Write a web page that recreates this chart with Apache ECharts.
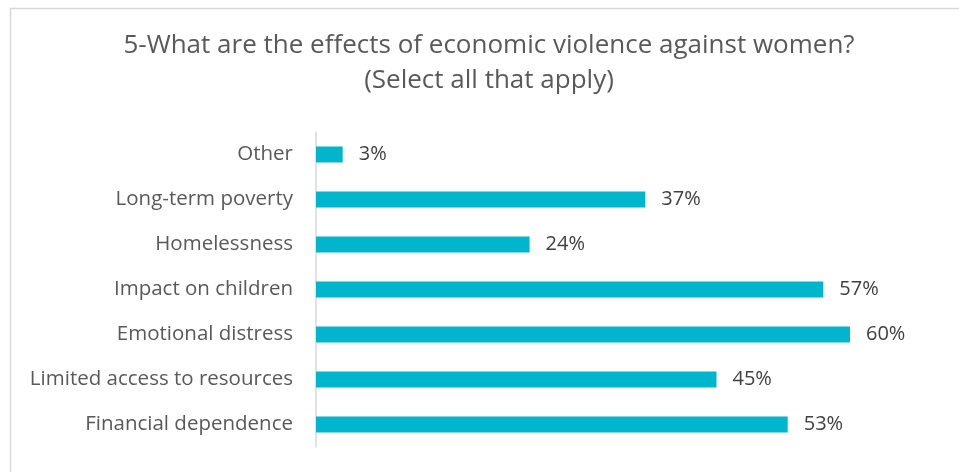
<!DOCTYPE html>
<html>
<head>
<meta charset="utf-8">
<script src="https://cdn.jsdelivr.net/npm/echarts@6/dist/echarts.min.js"></script>
<style>
  html, body { margin: 0; padding: 0; background: #fff; }
  #chart { width: 959px; height: 472px; }
</style>
</head>
<body>
<div id="chart"></div>
<script>
// Survey responses, listed bottom-to-top as drawn on the category axis
const categories = [
  'Financial dependence',
  'Limited access to resources',
  'Emotional distress',
  'Impact on children',
  'Homelessness',
  'Long-term poverty',
  'Other'
];
const percentages = [53, 45, 60, 57, 24, 37, 3];

const titleLines = [
  '5-What are the effects of economic violence against women?',
  '(Select all that apply)'
];

const FONT = '"Open Sans", "Liberation Sans", sans-serif';

const chart = echarts.init(document.getElementById('chart'), null, { renderer: 'canvas' });

chart.setOption({
  animation: false,
  backgroundColor: '#ffffff',
  graphic: [{
    type: 'rect',
    left: 8,
    top: 6,
    shape: { width: 980, height: 500 },
    style: { fill: 'none', stroke: '#d9d9d9', lineWidth: 1.5 },
    z: -1
  }],
  title: {
    text: titleLines.join('\n'),
    left: 484,
    textAlign: 'center',
    top: 23,
    padding: 5,
    textStyle: {
      fontFamily: FONT,
      fontSize: 26,
      fontWeight: 'normal',
      color: '#595959',
      lineHeight: 35
    }
  },
  grid: {
    left: 316,
    right: 109,
    top: 132,
    bottom: 25,
    containLabel: false
  },
  xAxis: {
    type: 'value',
    min: 0,
    max: 60,
    show: false
  },
  yAxis: {
    type: 'category',
    data: categories,
    axisLine: { show: true, lineStyle: { color: '#d9d9d9', width: 1.5 } },
    axisTick: { show: false },
    axisLabel: {
      margin: 23,
      fontFamily: FONT,
      fontSize: 20.5,
      color: '#595959'
    }
  },
  series: [{
    type: 'bar',
    data: percentages,
    barWidth: 16,
    itemStyle: { color: '#00b5cc' },
    label: {
      show: true,
      position: 'right',
      distance: 16,
      formatter: p => p.value + '%',
      fontFamily: FONT,
      fontSize: 20,
      color: '#404040'
    }
  }]
});
</script>
</body>
</html>
